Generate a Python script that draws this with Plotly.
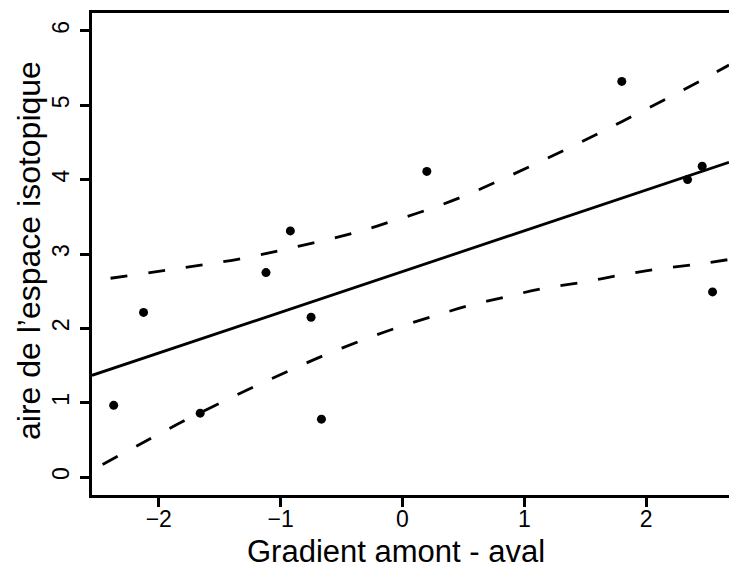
import plotly.graph_objects as go

# Scatter data
pts_x = [-2.37, -2.125, -1.66, -1.12, -0.92, -0.75, -0.665, 0.20, 1.80, 2.34, 2.46, 2.545]
pts_y = [0.965, 2.215, 0.86, 2.75, 3.31, 2.15, 0.78, 4.11, 5.32, 4.00, 4.18, 2.49]

# Regression line endpoints (read at plot edges)
fit_x = [-2.548, 2.68]
fit_y = [1.369, 4.232]

# Upper confidence band
up_x = [-2.396, -1.937, -1.322, -0.839, -0.404, -0.101, 0.203, 0.498, 0.784, 1.071,
        1.358, 1.637, 1.916, 2.195, 2.473, 2.68]
up_y = [2.674, 2.782, 2.939, 3.109, 3.280, 3.432, 3.594, 3.774, 3.980, 4.195,
        4.420, 4.643, 4.877, 5.110, 5.353, 5.54]

# Lower confidence band
lo_x = [-2.461, -2.060, -1.781, -1.503, -1.216, -0.929, -0.642, -0.347, -0.052, 0.252,
        0.547, 0.858, 1.153, 1.473, 1.776, 2.088, 2.407, 2.68]
lo_y = [0.171, 0.525, 0.767, 0.992, 1.217, 1.432, 1.638, 1.830, 2.005, 2.163,
        2.307, 2.428, 2.536, 2.620, 2.711, 2.795, 2.859, 2.926]

x_ticks = [-2, -1, 0, 1, 2]
y_ticks = [0, 1, 2, 3, 4, 5, 6]

FONT = "Liberation Sans, Arial, sans-serif"
dash = "17px,21px"

fig = go.Figure()
fig.add_trace(go.Scatter(x=fit_x, y=fit_y, mode="lines",
                         line=dict(color="black", width=2.8), hoverinfo="skip"))
fig.add_trace(go.Scatter(x=up_x, y=up_y, mode="lines", line_shape="spline",
                         line=dict(color="black", width=2.8, dash=dash), hoverinfo="skip"))
fig.add_trace(go.Scatter(x=lo_x, y=lo_y, mode="lines", line_shape="spline",
                         line=dict(color="black", width=2.8, dash=dash), hoverinfo="skip"))
fig.add_trace(go.Scatter(x=pts_x, y=pts_y, mode="markers",
                         marker=dict(color="black", size=9)))

fig.update_layout(
    width=729, height=568,
    margin=dict(l=92, r=0, t=13, b=73),
    paper_bgcolor="white", plot_bgcolor="white",
    showlegend=False,
    font=dict(family=FONT, color="black", size=23),
    xaxis=dict(range=[-2.548, 2.68], tickvals=x_ticks,
               ticktext=[str(v).replace("-", "\u2212") for v in x_ticks],
               showgrid=False, zeroline=False, showline=True, linecolor="black", linewidth=2.5,
               mirror=True, ticks="outside", ticklen=9, tickwidth=2.5, tickcolor="black",
               tickfont=dict(size=23, family=FONT, color="black"), ticklabelstandoff=-7,
               fixedrange=True),
    yaxis=dict(range=[-0.24, 6.24], tickvals=y_ticks, ticktext=[str(v) for v in y_ticks],
               showgrid=False, zeroline=False, showline=True, linecolor="black", linewidth=2.5,
               ticks="outside", ticklen=9, tickwidth=2.5, tickcolor="black", tickangle=-90,
               tickfont=dict(size=23, family=FONT, color="black"), ticklabelstandoff=2,
               fixedrange=True),
)

fig.add_annotation(text="Gradient amont - aval", xref="paper", yref="paper",
                   x=0.5, y=0, xanchor="center", yanchor="middle",
                   yshift=-56, xshift=-15, showarrow=False,
                   font=dict(size=31, family=FONT, color="black"))
fig.add_annotation(text="aire de l\u2019espace isotopique", xref="paper", yref="paper",
                   x=0, y=0.5, xanchor="center", yanchor="middle",
                   xshift=-63, yshift=3, textangle=-90, showarrow=False,
                   font=dict(size=32, family=FONT, color="black"))

fig.write_html("out.html")
